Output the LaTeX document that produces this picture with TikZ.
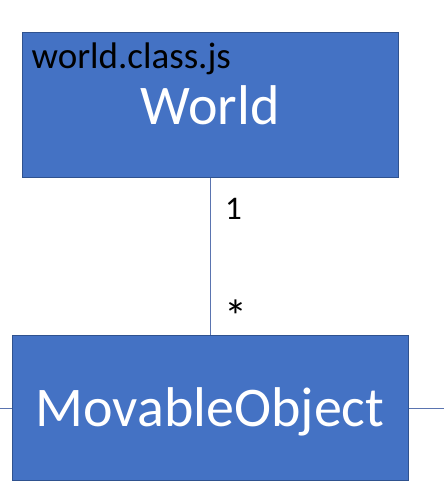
\documentclass[tikz,border=0pt]{standalone}
\usepackage{fontspec}
\setmainfont{Carlito}
\usetikzlibrary{positioning}

\definecolor{boxblue}{HTML}{4472C4}
\definecolor{boxedge}{HTML}{2F528F}
\definecolor{linkblue}{HTML}{5A74B0}

\begin{document}
\begin{tikzpicture}[
  x=1pt, y=-1pt,
  classbox/.style={draw=boxedge, fill=boxblue, line width=1pt, inner sep=0pt},
  classname/.style={text=white, font=\fontsize{56}{60}\selectfont, inner sep=0pt},
  filename/.style={text=black, font=\fontsize{37}{40}\selectfont, inner sep=0pt},
  mult/.style={text=black, font=\fontsize{33}{36}\selectfont, inner sep=0pt},
  link/.style={draw=linkblue, line width=0.8pt}
]
\useasboundingbox (0,0) rectangle (444,498);

\node[classbox, minimum width=376pt, minimum height=145pt] (world) at (210,105) {};
\node[classbox, minimum width=396pt, minimum height=145pt, below=157pt of world] (movable) {};

\node[filename, anchor=base west] (worldfile) at ([xshift=10pt,yshift=-36pt]world.north west) {world.class.js};
\node[classname, anchor=base] (worldname) at (210,124) {World};
\node[classname, anchor=base] (movablename) at (210,426) {MovableObject};

% association
\draw[link] (world) -- (movable);
\node[mult, anchor=base west] (one) at (225,219) {1};
\node[mult, anchor=base west, font=\fontsize{46}{48}\selectfont] (many) at (224,332) {*};

% links leaving the picture
\coordinate (leftend) at (0,408);
\coordinate (rightend) at (444,408);
\draw[link] (leftend) -- (leftend -| movable.west);
\draw[link] (movable.east |- rightend) -- (rightend);
\end{tikzpicture}
\end{document}
